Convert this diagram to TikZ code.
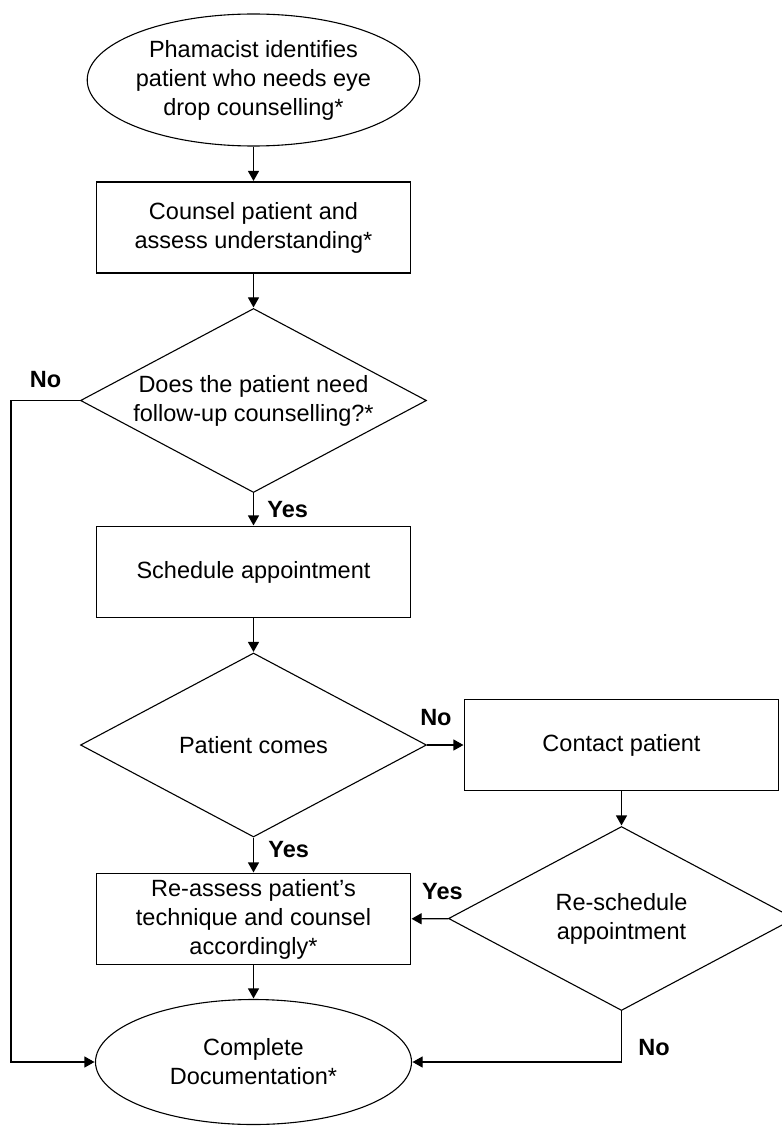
\documentclass[tikz,border=0pt]{standalone}
\usepackage{fontspec}
\setmainfont{Liberation Sans}
\usetikzlibrary{shapes.geometric,arrows.meta}

\begin{document}
\begin{tikzpicture}[->, >={Triangle[length=10pt,width=11pt]}, shorten >=0.5pt, auto, line width=1.1pt,
	start node/.style={ellipse, draw, minimum width=314pt, minimum height=132pt, inner sep=0pt, align=center, font=\fontsize{23.5}{29}\selectfont},
	box node/.style={rectangle, draw, minimum width=314pt, minimum height=91pt, inner sep=0pt, align=center, font=\fontsize{23.5}{29}\selectfont},
	choice node/.style={diamond, draw, shape aspect=1.88, minimum width=346pt, minimum height=184pt, inner sep=0pt, align=center, font=\fontsize{23.5}{29}\selectfont},
	answer/.style={font=\fontsize{23.5}{29}\selectfont\bfseries}]
	\useasboundingbox (0,0) rectangle (781pt,-1126pt);

	\node[start node] (A) at (253.5pt,-80pt) {Phamacist identifies\\patient who needs eye\\drop counselling*};
	\node[box node] (B) [below of=A, node distance=147.5pt] {Counsel patient and\\assess understanding*};
	\node[choice node] (C) [below of=B, node distance=173pt] {Does the patient need\\follow-up counselling?*};
	\node[box node] (D) [below of=C, node distance=171.5pt] {Schedule appointment};
	\node[choice node] (E) [below of=D, node distance=173pt] {Patient comes};
	\node[box node] (F) [right of=E, node distance=368pt] {Contact patient};
	\node[choice node] (G) [below of=F, node distance=173.5pt] {Re-schedule\\appointment};
	\node[box node] (H) [below of=E, node distance=174pt] {Re-assess patient’s\\technique and counsel\\accordingly*};
	\node[start node, minimum width=316pt, minimum height=125pt] (I) [below of=H, node distance=143pt] {Complete\\Documentation*};
	\coordinate (J) at (11pt,-400.5pt);

	\path[every node/.style={answer}]
		(A) edge (B)
		(B) edge (C)
		(C) edge node [right=10pt] {Yes} (D)
		(D) edge (E)
		(E) edge node [above=15pt, pos=0.24] {No} (F)
			edge node [right=11pt, pos=0.35] {Yes} (H)
		(F) edge (G)
		(G) edge node [above=15pt, pos=0.16] {Yes} (H)
		(H) edge (I);

	\draw (C.west) -- node[answer, above=9pt] {No} (J) |- (I.west);
	\draw (G.south) |- node[answer, right=13pt, pos=0.36] {No} (I.east);
\end{tikzpicture}
\end{document}
